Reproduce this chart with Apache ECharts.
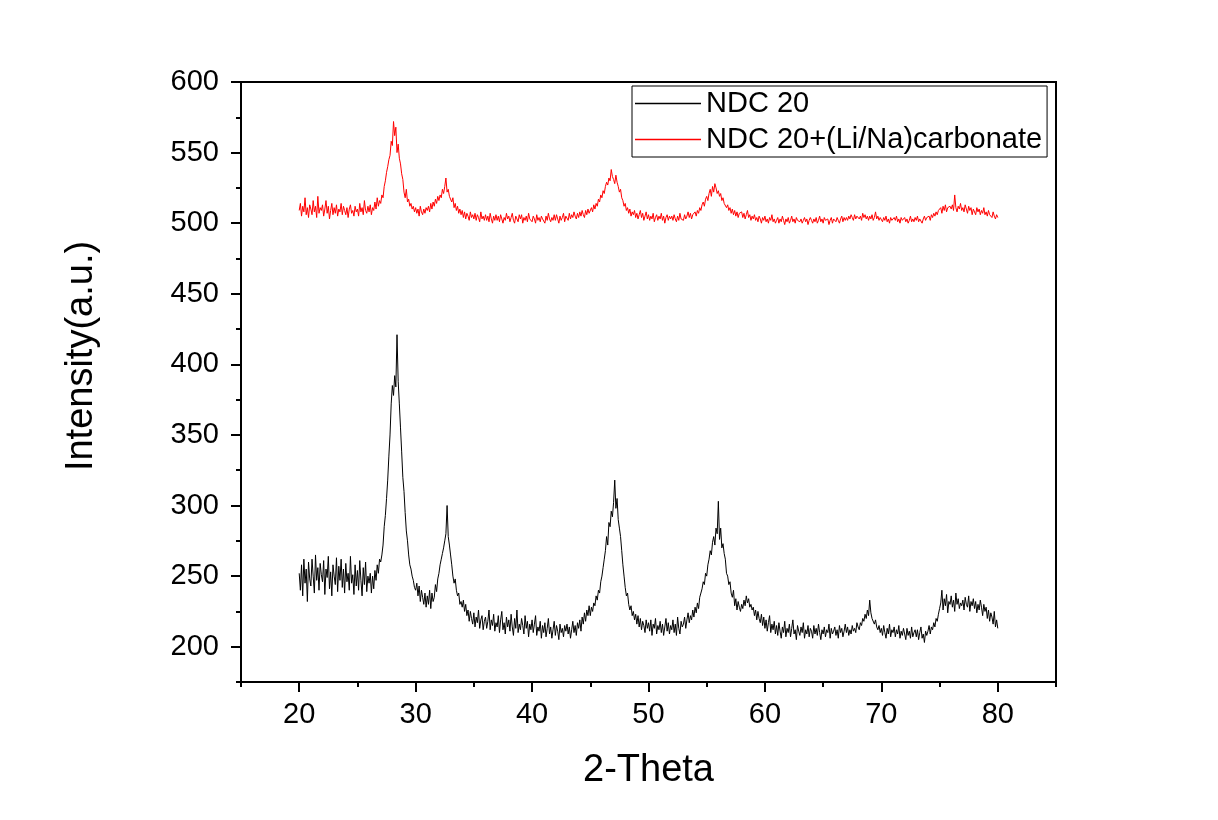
<!DOCTYPE html>
<html>
<head>
<meta charset="utf-8">
<script src="https://cdn.jsdelivr.net/npm/echarts@6/dist/echarts.min.js"></script>
<style>
html,body{margin:0;padding:0;background:#fff;}
#chart{width:1218px;height:820px;}
</style>
</head>
<body>
<div id="chart"></div>
<script>
// 2-Theta sampling grid of the scan
const thetaStart = 20;
const thetaStep = 0.1;

const seriesNames = ['NDC 20', 'NDC 20+(Li/Na)carbonate'];

// NDC 20 intensities, one row per degree (20.0 ... 79.9), then 80.0
const ndc20 = [
  252,240,258,236,262,245,255,232,260,248,
  243,262,250,238,265,247,256,240,259,251,
  246,261,237,255,249,264,241,253,236,258,
  250,244,263,239,257,247,262,242,255,238,
  259,246,252,240,264,245,251,237,258,243,
  254,240,261,247,236,256,244,260,239,250,
  245,252,238,250,241,254,247,258,252,262,
  260,265,272,285,293,305,318,335,350,372,
  385,378,392,384,421,388,372,355,338,320,
  310,295,282,275,265,258,255,250,247,242,
  240,245,236,243,232,240,235,230,238,228,
  236,230,240,227,238,232,235,244,239,248,
  252,258,262,266,270,275,280,300,278,272,
  265,258,250,245,248,240,236,238,230,232,
  228,233,225,230,222,226,218,225,220,216,
  224,214,221,217,226,213,219,222,212,218,
  221,213,218,226,212,219,215,223,211,217,
  214,222,210,219,225,212,217,209,221,214,
  219,211,223,214,208,220,213,226,210,216,
  212,220,215,209,222,213,218,207,216,212,
  219,210,216,222,208,214,211,218,206,215,
  210,217,207,213,220,209,214,206,212,218,
  208,215,211,205,216,210,213,207,215,211,
  216,209,214,206,212,218,210,215,208,217,
  213,219,211,221,216,224,218,226,222,229,
  222,228,225,231,229,236,233,240,238,246,
  250,256,262,268,278,272,288,285,296,292,
  302,318,298,305,290,284,278,268,258,250,
  242,236,238,230,226,229,222,225,219,223,
  216,222,214,220,212,218,215,210,219,213,
  217,211,219,208,216,213,220,209,215,212,
  218,210,216,208,214,220,211,217,209,215,
  212,219,210,216,208,221,213,209,218,214,
  216,221,213,219,224,217,222,219,226,221,
  228,224,231,227,235,238,241,246,244,252,
  250,258,262,268,265,274,278,272,284,280,
  303,276,284,270,273,266,262,252,250,244,
  246,238,235,240,229,234,226,232,228,225,
  230,227,233,229,236,231,234,228,230,226,
  228,222,226,219,225,220,217,223,215,221,
  213,219,211,217,222,210,216,212,218,209,
  215,208,217,211,206,214,210,218,207,213,
  210,216,207,213,219,209,212,205,215,211,
  208,214,210,217,206,212,209,215,207,213,
  211,206,215,209,213,208,216,210,205,212,
  209,214,207,212,210,216,206,213,209,211,
  214,208,212,206,215,210,213,207,211,216,
  210,214,208,212,209,215,211,213,210,217,
  214,212,217,215,220,218,223,220,226,222,
  233,224,220,221,216,219,214,212,215,210,
  213,208,215,210,206,213,209,216,207,212,
  210,214,207,212,209,215,206,211,208,213,
  209,205,213,208,211,206,214,207,210,212,
  207,212,205,210,214,206,209,203,211,208,
  211,215,209,214,212,217,214,220,218,223,
  227,231,240,226,234,229,237,224,232,230,
  236,228,233,225,238,230,234,227,231,229,
  233,226,235,230,228,236,225,232,229,234,
  227,232,224,230,226,233,228,222,230,225,
  228,220,226,218,224,221,216,225,214,219,
  213
];

// NDC 20+(Li/Na)carbonate intensities, same grid
const ndc20Carbonate = [
  509,514,505,512,508,518,506,511,504,513,
  510,506,516,508,512,504,519,507,511,509,
  513,505,510,516,507,512,503,509,514,506,
  511,507,513,505,510,508,514,506,512,509,
  506,511,504,510,513,507,509,505,512,508,
  510,505,514,508,511,506,516,509,507,512,
  508,513,506,511,509,515,510,518,512,516,
  514,520,518,526,530,536,540,545,548,558,
  555,572,562,568,550,556,546,542,535,531,
  522,518,524,515,517,512,514,510,512,508,
  511,507,510,505,512,508,506,510,507,511,
  509,512,508,514,510,515,512,517,514,519,
  516,520,518,524,521,526,532,522,524,519,
  520,515,518,511,514,509,512,507,510,506,
  509,504,508,503,507,505,502,508,504,506,
  503,507,502,506,504,501,508,503,505,502,
  506,502,505,501,507,503,500,505,502,506,
  502,505,501,506,503,500,504,502,507,503,
  505,501,504,507,502,500,505,503,501,506,
  503,506,500,504,502,505,501,507,503,502,
  501,505,503,500,506,502,504,501,505,503,
  504,500,505,502,507,503,501,504,502,506,
  502,506,503,500,505,502,504,507,501,505,
  505,502,507,503,506,504,508,505,503,507,
  504,508,505,509,506,504,509,506,510,507,
  506,511,508,513,510,514,512,517,515,520,
  518,523,521,526,529,527,532,530,538,533,
  531,528,534,529,526,522,524,518,516,512,
  514,509,511,507,510,505,508,506,509,504,
  507,503,506,509,504,507,502,505,508,503,
  506,502,505,503,507,501,504,506,502,505,
  503,507,502,505,500,504,506,502,505,503,
  505,502,506,503,501,505,502,507,503,504,
  502,506,503,505,508,504,507,503,506,505,
  508,505,509,507,511,509,513,515,512,517,
  519,516,521,524,519,526,522,528,525,521,
  523,519,521,516,518,514,515,511,513,509,
  511,507,510,506,509,505,508,504,507,506,
  508,504,507,503,506,509,504,506,502,505,
  503,506,502,504,501,505,503,500,504,502,
  505,501,503,500,504,502,506,501,503,500,
  502,504,500,503,501,505,502,499,503,501,
  504,500,502,505,501,503,500,504,502,501,
  501,503,500,502,504,501,503,499,502,504,
  502,500,503,501,504,500,502,505,501,503,
  500,504,502,501,503,499,502,504,500,503,
  503,501,504,502,500,503,505,501,504,502,
  504,502,505,503,506,504,502,506,503,505,
  506,503,505,502,507,504,506,503,505,502,
  505,503,506,502,504,508,503,505,502,504,
  503,501,504,502,505,501,503,500,504,502,
  501,504,502,505,501,503,500,504,502,503,
  504,501,503,500,502,505,501,503,501,504,
  502,505,501,503,504,500,503,505,502,504,
  503,505,502,506,504,507,505,508,506,509,
  508,511,507,512,509,513,508,511,510,512,
  510,513,509,520,511,508,512,510,514,509,
  511,508,513,510,507,512,509,511,506,510,
  509,506,511,508,510,506,509,507,511,506,
  508,505,509,506,507,504,508,505,503,506,
  504
];

// Axis ticks and labels
const xMajorTicks = [20, 30, 40, 50, 60, 70, 80];
const xMinorTicks = [15, 25, 35, 45, 55, 65, 75, 85];
const yMajorTicks = [200, 250, 300, 350, 400, 450, 500, 550, 600];
const yMinorTicks = [175, 225, 275, 325, 375, 425, 475, 525, 575];

function pairs(values) {
  return values.map((v, i) => [+(thetaStart + i * thetaStep).toFixed(2), v]);
}

const FONT = '"Liberation Sans", Arial, sans-serif';
const chart = echarts.init(document.getElementById('chart'), null, { renderer: 'canvas' });

const baseX = { type: 'value', min: 15, max: 85, interval: 5, gridIndex: 0 };
const baseY = { type: 'value', min: 175, max: 600, interval: 25, gridIndex: 0 };

chart.setOption({
  animation: false,
  backgroundColor: '#fff',
  grid: {
    left: 241, right: 162, top: 82, bottom: 138,
    show: true, borderColor: '#000', borderWidth: 2, backgroundColor: 'transparent'
  },
  legend: {
    left: 632, top: 86, orient: 'vertical',
    borderColor: '#000', borderWidth: 1,
    padding: [3, 5, 3, 3],
    itemWidth: 66, itemHeight: 1.5, itemGap: 7,
    icon: 'rect',
    textStyle: { fontSize: 29, color: '#000', fontFamily: FONT },
    data: [
      { name: seriesNames[0], itemStyle: { color: '#000000' } },
      { name: seriesNames[1], itemStyle: { color: '#ff0000' } }
    ]
  },
  xAxis: [
    Object.assign({}, baseX, {
      position: 'bottom',
      name: '2-Theta', nameLocation: 'middle', nameGap: 70,
      nameTextStyle: { fontSize: 38, color: '#000', fontFamily: FONT },
      axisLine: { show: true, onZero: false, lineStyle: { color: '#000', width: 2 } },
      axisTick: { show: true, inside: false, length: 10, lineStyle: { color: '#000', width: 2 }, customValues: xMajorTicks },
      axisLabel: { show: true, margin: 18, fontSize: 29, color: '#000', fontFamily: FONT, customValues: xMajorTicks },
      splitLine: { show: false }
    }),
    Object.assign({}, baseX, {
      position: 'bottom',
      axisLine: { show: false, onZero: false },
      axisTick: { show: true, length: 5, lineStyle: { color: '#000', width: 2 }, customValues: xMinorTicks },
      axisLabel: { show: false },
      splitLine: { show: false }
    })
  ],
  yAxis: [
    Object.assign({}, baseY, {
      position: 'left',
      name: 'Intensity(a.u.)', nameLocation: 'middle', nameGap: 140,
      nameTextStyle: { fontSize: 38, color: '#000', fontFamily: FONT, padding: [0, 0, 0, 52] },
      axisLine: { show: true, onZero: false, lineStyle: { color: '#000', width: 2 } },
      axisTick: { show: true, inside: false, length: 10, lineStyle: { color: '#000', width: 2 }, customValues: yMajorTicks },
      axisLabel: { show: true, margin: 22, fontSize: 29, color: '#000', fontFamily: FONT, customValues: yMajorTicks },
      splitLine: { show: false }
    }),
    Object.assign({}, baseY, {
      position: 'left',
      axisLine: { show: false, onZero: false },
      axisTick: { show: true, length: 5, lineStyle: { color: '#000', width: 2 }, customValues: yMinorTicks },
      axisLabel: { show: false },
      splitLine: { show: false }
    })
  ],
  series: [
    {
      name: seriesNames[0], type: 'line', xAxisIndex: 0, yAxisIndex: 0,
      data: pairs(ndc20), showSymbol: false, symbol: 'none',
      lineStyle: { color: '#000000', width: 1 }, itemStyle: { color: '#000000' },
      emphasis: { disabled: true }
    },
    {
      name: seriesNames[1], type: 'line', xAxisIndex: 0, yAxisIndex: 0,
      data: pairs(ndc20Carbonate), showSymbol: false, symbol: 'none',
      lineStyle: { color: '#ff0000', width: 1 }, itemStyle: { color: '#ff0000' },
      emphasis: { disabled: true }
    }
  ]
});
</script>
</body>
</html>
